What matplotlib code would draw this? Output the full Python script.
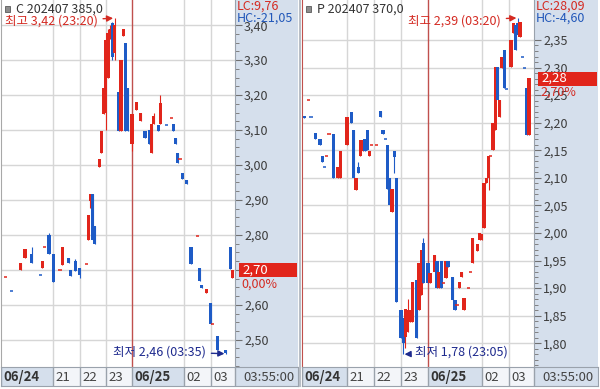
import matplotlib
matplotlib.use('Agg')
import matplotlib.pyplot as plt
from matplotlib.patches import Rectangle
from matplotlib.lines import Line2D
from matplotlib.ticker import FixedLocator, FuncFormatter

plt.rcParams['font.family'] = ['Noto Sans CJK KR', 'DejaVu Sans']

# 시간축 (06/24 야간 ~ 06/25 03:55)
hour_labels = ['21', '22', '23', '06/25', '02', '03']
hour_times = ['21:00', '22:00', '23:00', '00:00', '02:00', '03:00']
session_end = '03:56'
last_time_label = '03:55:00'

# 콜 C 202407 385,0 (5분봉)
call_ticks = [2.50, 2.60, 2.70, 2.80, 2.90, 3.00, 3.10, 3.20, 3.30, 3.40]
call_time = ['19:10', '19:25', '19:45', '19:55', '20:10', '20:30', '20:35', '20:40', '20:50', '21:00',
             '21:15', '21:20', '21:35', '21:40', '21:50', '22:00', '22:15', '22:20', '22:25', '22:30',
             '22:35', '22:45', '22:50', '22:55', '23:00', '23:05', '23:10', '23:15', '23:20', '23:30',
             '23:35', '23:40', '23:45', '23:50', '00:00', '00:10', '00:20', '00:30', '00:40', '00:45',
             '00:50', '01:00', '01:05', '01:20', '01:30', '01:35', '01:40', '01:45', '01:50', '01:55',
             '02:05', '02:15', '02:30', '02:35', '02:40', '02:50', '03:00', '03:05', '03:15', '03:35',
             '03:45', '03:50']
call_open = [2.68, 2.64, 2.70, 2.733, 2.745, 2.685, 2.705, 2.765, 2.80, 2.745,
             2.70, 2.715, 2.735, 2.70, 2.725, 2.705, 2.716, 2.785, 2.897, 2.917,
             2.825, 2.995, 3.035, 3.147, 3.15, 3.25, 3.37, 3.406, 3.32, 3.208,
             3.098, 3.37, 3.35, 3.22, 3.061, 3.156, 3.127, 3.098, 3.10, 3.035,
             3.118, 3.113, 3.118, 3.113, 3.133, 3.118, 3.078, 3.035, 3.018, 2.978,
             2.958, 2.765, 2.797, 2.705, 2.656, 2.633, 2.604, 2.544, 2.512, 2.47,
             2.765, 2.676]
call_high = [2.68, 2.64, 2.72, 2.76, 2.765, 2.685, 2.725, 2.765, 2.805, 2.745,
             2.70, 2.765, 2.735, 2.70, 2.73, 2.705, 2.716, 2.857, 2.917, 2.917,
             2.825, 3.018, 3.098, 3.22, 3.36, 3.39, 3.40, 3.41, 3.42, 3.208,
             3.30, 3.39, 3.35, 3.22, 3.147, 3.18, 3.15, 3.098, 3.10, 3.118,
             3.15, 3.113, 3.199, 3.113, 3.133, 3.118, 3.078, 3.035, 3.018, 2.978,
             2.958, 2.765, 2.797, 2.705, 2.656, 2.644, 2.604, 2.544, 2.512, 2.47,
             2.765, 2.70]
call_low = [2.68, 2.64, 2.70, 2.733, 2.72, 2.685, 2.705, 2.765, 2.745, 2.665,
            2.70, 2.715, 2.72, 2.683, 2.696, 2.676, 2.716, 2.785, 2.877, 2.785,
            2.774, 2.995, 3.035, 3.147, 3.10, 3.25, 3.36, 3.30, 3.30, 3.098,
            3.098, 3.37, 3.098, 3.098, 3.04, 3.156, 3.127, 3.078, 3.061, 3.035,
            3.118, 3.098, 3.118, 3.113, 3.133, 3.098, 3.061, 3.006, 3.018, 2.96,
            2.946, 2.716, 2.797, 2.667, 2.647, 2.633, 2.544, 2.544, 2.472, 2.46,
            2.702, 2.676]
call_close = [2.68, 2.64, 2.72, 2.76, 2.72, 2.685, 2.725, 2.765, 2.745, 2.665,
              2.70, 2.765, 2.72, 2.683, 2.696, 2.685, 2.716, 2.857, 2.917, 2.785,
              2.774, 3.018, 3.098, 3.22, 3.357, 3.377, 3.39, 3.308, 3.40, 3.098,
              3.30, 3.39, 3.098, 3.098, 3.147, 3.18, 3.15, 3.078, 3.061, 3.118,
              3.141, 3.098, 3.176, 3.113, 3.133, 3.098, 3.061, 3.006, 3.018, 2.96,
              2.946, 2.716, 2.797, 2.667, 2.647, 2.644, 2.544, 2.544, 2.472, 2.462,
              2.702, 2.70]

# 풋 P 202407 370,0 (5분봉)
put_ticks = [1.80, 1.85, 1.90, 1.95, 2.00, 2.05, 2.10, 2.15, 2.20, 2.25, 2.30, 2.35]
put_time = ['19:25', '19:35', '19:40', '19:50', '20:00', '20:05', '20:10', '20:15', '20:20', '20:30',
            '20:40', '20:45', '21:00', '21:10', '21:15', '21:20', '21:25', '21:30', '21:35', '21:40',
            '21:45', '21:50', '21:55', '22:05', '22:15', '22:20', '22:25', '22:30', '22:35', '22:40',
            '22:45', '22:50', '23:00', '23:05', '23:10', '23:15', '23:20', '23:25', '23:35', '23:40',
            '23:45', '23:50', '00:00', '00:05', '00:15', '00:20', '00:25', '00:30', '00:35', '00:40',
            '00:45', '00:55', '01:00', '01:05', '01:10', '01:15', '01:20', '01:30', '01:35', '01:40',
            '01:50', '01:55', '02:00', '02:05', '02:10', '02:15', '02:20', '02:25', '02:30', '02:35',
            '02:40', '02:45', '02:50', '02:55', '03:05', '03:10', '03:15', '03:20', '03:25', '03:30',
            '03:35', '03:40', '03:45']
put_open = [2.212, 2.241, 2.21, 2.182, 2.171, 2.14, 2.12, 2.14, 2.18, 2.18,
            2.10, 2.10, 2.16, 2.22, 2.187, 2.078, 2.12, 2.14, 2.149, 2.171,
            2.187, 2.14, 2.16, 2.16, 2.221, 2.187, 2.171, 2.16, 2.10, 2.038,
            2.149, 2.10, 1.861, 1.846, 1.812, 1.821, 1.839, 1.839, 1.915, 1.861,
            1.888, 1.982, 1.946, 1.910, 1.93, 1.95, 1.901, 1.95, 1.91, 1.919,
            1.95, 1.921, 1.879, 1.87, 1.901, 1.921, 1.861, 1.901, 1.93, 1.946,
            1.968, 1.988, 1.988, 2.009, 2.091, 2.10, 2.14, 2.151, 2.187, 2.301,
            2.21, 2.299, 2.332, 2.262, 2.301, 2.363, 2.377, 2.38, 2.355, 2.319,
            2.299, 2.263, 2.178]
put_high = [2.212, 2.241, 2.21, 2.182, 2.171, 2.14, 2.12, 2.14, 2.18, 2.18,
            2.12, 2.149, 2.21, 2.22, 2.187, 2.10, 2.129, 2.169, 2.169, 2.171,
            2.187, 2.149, 2.16, 2.16, 2.221, 2.187, 2.171, 2.16, 2.10, 2.08,
            2.149, 2.10, 1.861, 1.846, 1.863, 1.881, 1.861, 1.912, 1.915, 1.946,
            1.97, 1.991, 1.946, 1.928, 1.961, 1.95, 1.930, 1.95, 1.91, 1.95,
            1.95, 1.921, 1.879, 1.87, 1.912, 1.930, 1.883, 1.901, 1.93, 1.991,
            1.98, 2.000, 1.999, 2.091, 2.10, 2.14, 2.14, 2.20, 2.301, 2.301,
            2.241, 2.319, 2.332, 2.262, 2.35, 2.381, 2.377, 2.39, 2.383, 2.319,
            2.299, 2.263, 2.281]
put_low = [2.208, 2.241, 2.21, 2.171, 2.16, 2.129, 2.12, 2.14, 2.18, 2.10,
           2.10, 2.10, 2.16, 2.20, 2.10, 2.078, 2.109, 2.14, 2.149, 2.149,
           2.151, 2.14, 2.16, 2.16, 2.21, 2.18, 2.171, 2.08, 2.051, 2.038,
           2.109, 1.874, 1.81, 1.78, 1.792, 1.821, 1.839, 1.839, 1.810, 1.861,
           1.888, 1.910, 1.910, 1.910, 1.93, 1.901, 1.901, 1.901, 1.91, 1.919,
           1.939, 1.879, 1.861, 1.87, 1.901, 1.921, 1.861, 1.901, 1.93, 1.946,
           1.968, 1.988, 1.988, 2.009, 2.091, 2.078, 2.14, 2.151, 2.187, 2.241,
           2.21, 2.299, 2.263, 2.262, 2.301, 2.363, 2.332, 2.359, 2.355, 2.319,
           2.299, 2.178, 2.178]
put_close = [2.208, 2.241, 2.21, 2.171, 2.16, 2.129, 2.12, 2.14, 2.18, 2.10,
             2.12, 2.149, 2.21, 2.20, 2.10, 2.10, 2.109, 2.169, 2.169, 2.149,
             2.151, 2.149, 2.16, 2.16, 2.21, 2.18, 2.171, 2.08, 2.051, 2.08,
             2.138, 1.874, 1.81, 1.80, 1.863, 1.861, 1.861, 1.912, 1.810, 1.946,
             1.97, 1.910, 1.910, 1.928, 1.961, 1.901, 1.930, 1.901, 1.91, 1.95,
             1.939, 1.879, 1.861, 1.87, 1.912, 1.930, 1.883, 1.901, 1.93, 1.991,
             1.98, 2.000, 1.999, 2.091, 2.10, 2.14, 2.14, 2.20, 2.301, 2.241,
             2.241, 2.319, 2.263, 2.262, 2.35, 2.381, 2.332, 2.359, 2.383, 2.319,
             2.299, 2.178, 2.281]

W, H = 600, 389
RED = '#E1251B'
BLUE = '#1E5BC6'
TXT_RED = '#D42A22'
TXT_BLUE = '#2157B9'
NAVY = '#1E2A8E'
STRIP = '#D5DFEC'
CELL = '#F3F5F9'
GRID = '#D6D6D6'
DATE_LINE = '#C0504D'
EDGE = '#9AA2AC'
PLOT_H = 367


def to_min(s):
    hh, mm = map(int, s.split(':'))
    return ((hh - 19) % 24) * 60 + mm


def comma(v, pos=None):
    return f'{v:.2f}'.replace('.', ',')


def fx(px):
    return px / W


def fy(py):
    return 1 - py / H


fig = plt.figure(figsize=(W / 100, H / 100), dpi=100)


def draw_panel(x0, w, sw, start, times, o, hi, lo, c, ylim, ticks, minor, left_col,
               title, lc, hc, last, pct, top, bottom):
    t0, t1 = to_min(start), to_min(session_end)
    tpp = (t1 - t0) / w

    strip = fig.add_axes([fx(x0 + w), fy(PLOT_H), sw / W, PLOT_H / H], zorder=-1)
    strip.set_facecolor(STRIP)
    strip.set_xticks([])
    strip.set_yticks([])
    for s in strip.spines.values():
        s.set_visible(False)

    ax = fig.add_axes([fx(x0), fy(PLOT_H), w / W, PLOT_H / H])
    ax.set_xlim(t0, t1)
    ax.set_ylim(*ylim)
    ax.set_xticks([])
    ax.yaxis.tick_right()
    ax.yaxis.set_major_locator(FixedLocator(ticks))
    step = (ticks[1] - ticks[0]) / minor
    minors = [ticks[0] + k * step for k in range(-minor, minor * len(ticks))]
    ax.yaxis.set_minor_locator(FixedLocator([m for m in minors if ylim[0] < m < ticks[-1]]))
    ax.yaxis.set_major_formatter(FuncFormatter(comma))
    ax.tick_params(axis='y', which='major', direction='out', length=5, width=0.8,
                   color='#707070', pad=1.5, labelsize=9, labelcolor='#3C3C3C')
    ax.tick_params(axis='y', which='minor', direction='out', length=3, width=0.7, color='#808080')
    ax.grid(axis='y', which='major', color=GRID, lw=1)
    ax.set_axisbelow(True)
    ax.spines['top'].set_visible(False)
    ax.spines['bottom'].set_visible(False)
    ax.spines['right'].set_color(EDGE)
    ax.spines['left'].set_color(left_col)

    for lab, tm in zip(hour_labels, hour_times):
        ax.axvline(to_min(tm), color=DATE_LINE if '/' in lab else GRID, lw=1, zorder=1)

    # 캔들 (빨강 양봉, 파랑 음봉)
    prev = c[0]
    for tm, oi, hh, ll, ci in zip(times, o, hi, lo, c):
        t = to_min(tm)
        if ci > oi:
            col = RED
        elif ci < oi:
            col = BLUE
        else:
            col = RED if ci >= prev else BLUE
        ax.vlines(t, ll, hh, color=col, lw=0.8, zorder=3)
        if ci == oi:
            ax.hlines(ci, t - 3.6, t + 3.6, color=col, lw=1.1, zorder=3)
        else:
            ax.bar(t, ci - oi, bottom=oi, width=7.3, color=col, lw=0, zorder=3)
        prev = ci

    # 최고 / 최저 표시
    ttxt, ttime, tval = top
    ax.annotate(ttxt, xy=(to_min(ttime), tval), xytext=(-17, -3), textcoords='offset pixels',
                ha='right', va='center', color=TXT_RED, fontsize=9, annotation_clip=False,
                arrowprops=dict(arrowstyle='-|>', color=TXT_RED, lw=1, shrinkA=2, shrinkB=1,
                                mutation_scale=9))
    btxt, btime, bval, side = bottom
    off = -20 if side == 'left' else 12
    ax.annotate(btxt, xy=(to_min(btime), bval), xytext=(off, 2), textcoords='offset pixels',
                ha='right' if side == 'left' else 'left', va='center', color=NAVY, fontsize=9,
                arrowprops=dict(arrowstyle='-|>', color=NAVY, lw=1, shrinkA=2, shrinkB=1,
                                mutation_scale=9))

    # 종목명
    fig.add_artist(Rectangle((fx(x0 + 4), fy(12)), 5 / W, 6 / H, transform=fig.transFigure,
                             fc='#8C8C8C', ec='#5A5A5A', lw=0.6, zorder=3))
    fig.text(fx(x0 + 15), fy(9), title, fontsize=9, color='#333333', va='center', zorder=4)

    # 가격축 표시
    sx = x0 + w
    fig.text(fx(sx + 2), fy(6.5), lc, fontsize=9, color=TXT_RED, va='center', zorder=4)
    fig.text(fx(sx + 2), fy(18.5), hc, fontsize=9, color=TXT_BLUE, va='center', zorder=4)
    y_last = ax.transData.transform((t0, last))[1]
    fig.add_artist(Rectangle((fx(sx + 4), (y_last - 7) / H), (sw - 5) / W, 14 / H,
                             transform=fig.transFigure, fc=RED, ec='none', zorder=3))
    fig.text(fx(sx + 7), y_last / H, comma(last), fontsize=9.5, color='white', va='center', zorder=4)
    fig.text(fx(sx + 6), (y_last - 14) / H, pct, fontsize=9, color=TXT_RED, va='center', zorder=4)

    # 하단 시간축
    bx = fig.add_axes([fx(x0), fy(386), (w + sw) / W, 19 / H])
    bx.set_xlim(t0, t0 + (w + sw) * tpp)
    bx.set_ylim(0, 1)
    bx.set_xticks([])
    bx.set_yticks([])
    for s in bx.spines.values():
        s.set_color(EDGE)
    labels = ['06/24'] + hour_labels
    edges = [t0] + [to_min(tm) for tm in hour_times] + [t1]
    for i, lab in enumerate(labels):
        bold = '/' in lab
        bx.axvspan(edges[i], edges[i + 1], color=STRIP if bold else CELL, lw=0)
        bx.axvline(edges[i], color=EDGE, lw=1)
        bx.text(edges[i] + 2.5 * tpp, 0.45, lab, fontsize=9.5, va='center',
                color='#333333' if bold else '#444444', fontweight='bold' if bold else 'normal')
    bx.axvspan(t1, t0 + (w + sw) * tpp, color=STRIP, lw=0)
    bx.axvline(t1, color=EDGE, lw=1)
    bx.text(t1 + 8 * tpp, 0.45, last_time_label, fontsize=9.5, va='center', color='#444444')
    return ax


draw_panel(1, 234, 63, '19:00', call_time, call_open, call_high, call_low, call_close,
           (2.422, 3.472), call_ticks, 4, '#A8A8A8',
           'C 202407 385,0', 'LC:9,76', 'HC:-21,05', 2.70, '0,00%',
           ('최고 3,42 (23:20)', '23:20', 3.42),
           ('최저 2,46 (03:35)', '03:35', 2.46, 'left'))

draw_panel(302, 232, 64, '19:20', put_time, put_open, put_high, put_low, put_close,
           (1.757, 2.4225), put_ticks, 5, DATE_LINE,
           'P 202407 370,0', 'LC:28,09', 'HC:-4,60', 2.28, '2,70%',
           ('최고 2,39 (03:20)', '03:20', 2.39),
           ('최저 1,78 (23:05)', '23:05', 1.78, 'right'))

# 두 차트 사이 구분선
fig.add_artist(Line2D([fx(299.5), fx(299.5)], [fy(386), 1], transform=fig.transFigure,
                      color='#B8BEC6', lw=1.5))

fig.savefig('out.png', dpi=100)
